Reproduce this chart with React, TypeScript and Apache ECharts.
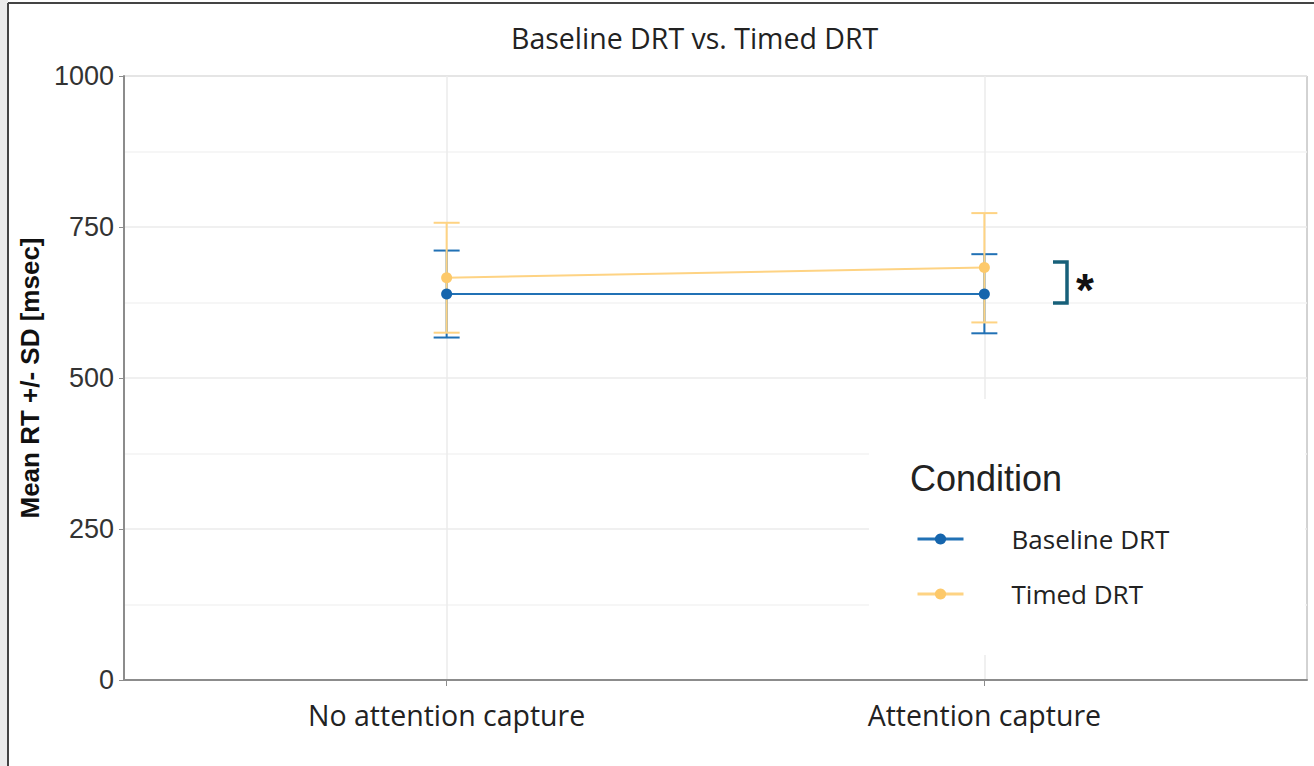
import React, { useEffect, useRef } from "react";
import * as echarts from "echarts";

const categories = ["No attention capture", "Attention capture"];
const seriesNames = ["Baseline DRT", "Timed DRT"];
const baselineMean = [639, 639];
const baselineLow = [567, 574];
const baselineHigh = [711, 705];
const timedMean = [666, 683];
const timedLow = [575, 592];
const timedHigh = [757, 773];
const yTicks = [0, 250, 500, 750, 1000];
const title = "Baseline DRT vs. Timed DRT";
const yName = "Mean RT +/- SD [msec]";
const legendTitle = "Condition";

const BLUE = "#2171b5";
const BLUE_DOT = "#1565ad";
const YELLOW = "#fed383";
const YELLOW_DOT = "#fdc96a";

function errorSeries(name: string, low: number[], high: number[], color: string) {
  return {
    type: "custom",
    name,
    data: categories.map((_, i) => [i, low[i], high[i]]),
    encode: { x: 0, y: [1, 2] },
    renderItem: (params: any, api: any) => {
      const x = api.value(0);
      const pLo = api.coord([x, api.value(1)]);
      const pHi = api.coord([x, api.value(2)]);
      const hw = 13;
      const style = { stroke: color, lineWidth: 2, fill: "none" };
      return {
        type: "group",
        children: [
          { type: "line", shape: { x1: pLo[0], y1: pHi[1], x2: pLo[0], y2: pLo[1] }, style },
          { type: "line", shape: { x1: pHi[0] - hw, y1: pHi[1], x2: pHi[0] + hw, y2: pHi[1] }, style },
          { type: "line", shape: { x1: pLo[0] - hw, y1: pLo[1], x2: pLo[0] + hw, y2: pLo[1] }, style },
        ],
      };
    },
  };
}

function lineSeries(name: string, mean: number[], color: string, dot: string) {
  return {
    type: "line",
    name,
    data: categories.map((_, i) => [i, mean[i]]),
    symbol: "circle",
    symbolSize: 11,
    lineStyle: { color, width: 2 },
    itemStyle: { color: dot },
  };
}

export default function App() {
  const ref = useRef<HTMLDivElement>(null);
  useEffect(() => {
    if (!ref.current) return;
    const chart = echarts.init(ref.current, undefined, { renderer: "svg" });
    chart.setOption({
      animation: false,
      backgroundColor: "#ffffff",
      title: {
        text: title,
        left: 506,
        top: 18,
        textStyle: { fontFamily: "Open Sans", fontSize: 28.5, fontWeight: "normal", color: "#222" },
      },
      grid: {
        left: 124,
        top: 76,
        right: 7,
        bottom: 86,
        show: true,
        borderColor: "#a6a6a6",
        borderWidth: 1,
        backgroundColor: "transparent",
      },
      xAxis: {
        type: "value",
        min: -0.6,
        max: 1.6,
        axisLine: { show: true, onZero: false, lineStyle: { color: "#8c8c8c", width: 2 } },
        axisTick: { show: true, customValues: [0, 1], length: 6, lineStyle: { color: "#8c8c8c" } },
        axisLabel: {
          customValues: [0, 1],
          formatter: (v: number) => categories[Math.round(v)] ?? "",
          fontFamily: "Open Sans",
          fontSize: 28.5,
          color: "#222",
          margin: 20,
        },
        splitLine: { show: true, lineStyle: { color: "#ebebeb", width: 1.5 } },
      },
      yAxis: {
        type: "value",
        min: 0,
        max: 1000,
        interval: 250,
        name: yName,
        nameLocation: "middle",
        nameGap: 76,
        nameTextStyle: { fontFamily: "Liberation Sans", fontWeight: "bold", fontSize: 26, color: "#111" },
        axisLine: { show: true, onZero: false, lineStyle: { color: "#8c8c8c", width: 2 } },
        axisTick: { show: true, length: 5, lineStyle: { color: "#8c8c8c" } },
        axisLabel: {
          fontFamily: "Liberation Sans",
          fontSize: 27,
          color: "#333",
          margin: 10,
          formatter: (v: number) => (yTicks.includes(v) ? String(v) : ""),
        },
        splitLine: { show: true, lineStyle: { color: "#ebebeb", width: 1.5 } },
        minorTick: { show: false, splitNumber: 2 },
        minorSplitLine: { show: true, lineStyle: { color: "#f3f3f3", width: 1.5 } },
      },
      legend: {
        data: seriesNames,
        orient: "vertical",
        left: 916,
        top: 526,
        padding: 0,
        itemWidth: 46,
        itemHeight: 14,
        itemGap: 29,
        lineStyle: { width: 3 },
        textStyle: { fontFamily: "Open Sans", fontSize: 26, color: "#222", padding: [0, 0, 12, 43] },
      },
      graphic: [
        { type: "rect", z: 1, shape: { x: 869, y: 399, width: 436, height: 256 }, style: { fill: "#ffffff" } },
        { type: "rect", z: 10, shape: { x: 0, y: 0, width: 8, height: 766 }, style: { fill: "#ebebeb" } },
        { type: "line", z: 10, shape: { x1: 8, y1: 3, x2: 8, y2: 766 }, style: { stroke: "#444", lineWidth: 2 } },
        { type: "line", z: 10, shape: { x1: 8, y1: 3, x2: 1314, y2: 3 }, style: { stroke: "#444", lineWidth: 2 } },
        {
          type: "text",
          z: 10,
          x: 910,
          y: 478,
          style: { text: legendTitle, font: "36px 'Liberation Sans'", fill: "#222", verticalAlign: "middle" },
        },
        {
          type: "polyline",
          z: 10,
          shape: { points: [[1053, 262], [1067, 262], [1067, 303], [1053, 303]] },
          style: { stroke: "#17607a", lineWidth: 3.5, fill: "none" },
        },
        {
          type: "text",
          z: 10,
          x: 1076,
          y: 290,
          style: { text: "*", font: "bold 46px 'Liberation Sans'", fill: "#111", verticalAlign: "middle" },
        },
      ],
      series: [
        lineSeries(seriesNames[0], baselineMean, BLUE, BLUE_DOT),
        errorSeries("Baseline SD", baselineLow, baselineHigh, BLUE),
        errorSeries("Timed SD", timedLow, timedHigh, YELLOW),
        lineSeries(seriesNames[1], timedMean, YELLOW, YELLOW_DOT),
      ],
    });
    return () => chart.dispose();
  }, []);
  return (
    <div
      ref={ref}
      style={{ position: "absolute", left: 0, top: 0, width: 1314, height: 766 }}
    />
  );
}
